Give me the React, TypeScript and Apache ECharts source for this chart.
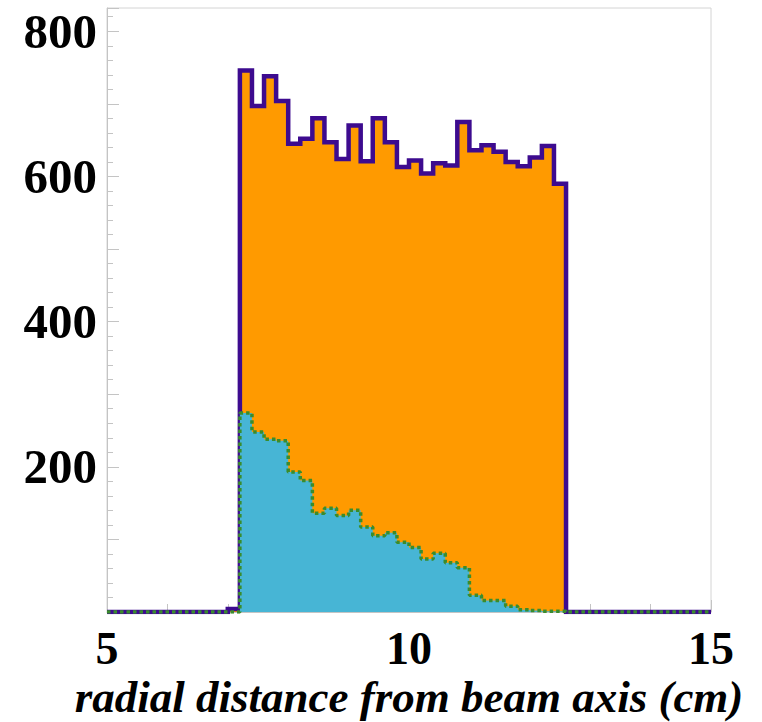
import React, { useEffect, useRef } from "react";
import * as echarts from "echarts";

// Histogram binning (cm)
const BIN_START = 5.0;
const BIN_WIDTH = 0.2;

// Counts per 0.2 cm bin, 5.0 – 15.0 cm (50 bins)
const totalCounts = [
  0, 0, 0, 0, 0, 0, 0, 0, 0, 0,
  4, 746, 697, 738, 704, 645, 652, 680, 647, 624,
  670, 621, 680, 647, 613, 622, 604, 618, 615, 675,
  636, 643, 634, 620, 614, 626, 642, 590, 0, 0,
  0, 0, 0, 0, 0, 0, 0, 0, 0, 0,
];
const subsetCounts = [
  0, 0, 0, 0, 0, 0, 0, 0, 0, 0,
  0, 274, 248, 238, 236, 193, 181, 136, 143, 133,
  140, 117, 105, 109, 96, 89, 73, 81, 68, 61,
  23, 16, 16, 8, 3, 2, 1, 1, 0, 0,
  0, 0, 0, 0, 0, 0, 0, 0, 0, 0,
];

const xTickLabels = [5, 10, 15];
const yTickLabels = [200, 400, 600, 800];
const xTitle = "radial distance from beam axis (cm)";

function toSteps(counts: number[]): number[][] {
  const pts: number[][] = [[BIN_START, 0]];
  counts.forEach((c, i) => pts.push([BIN_START + i * BIN_WIDTH, c]));
  const end = BIN_START + counts.length * BIN_WIDTH;
  pts.push([end, counts[counts.length - 1]]);
  pts.push([end, 0]);
  return pts;
}

const AXIS_GRAY = "#c4c4c4";
const SERIF = "'Liberation Serif', 'Times New Roman', serif";

export default function App() {
  const ref = useRef<HTMLDivElement>(null);
  useEffect(() => {
    if (!ref.current) return;
    const chart = echarts.init(ref.current, undefined, { renderer: "svg" });
    chart.setOption({
      animation: false,
      backgroundColor: "#ffffff",
      grid: {
        left: 107,
        right: 51,
        top: 8,
        bottom: 110,
        outerBoundsMode: "none",
        containLabel: false,
        show: true,
        borderColor: "#d4d4d4",
        borderWidth: 1,
        backgroundColor: "#ffffff",
      },
      xAxis: [
        {
          type: "value",
          position: "bottom",
          min: 5,
          max: 15,
          interval: 5,
          axisLine: { show: true, onZero: false, lineStyle: { color: AXIS_GRAY, width: 1 } },
          axisTick: { show: true, inside: true, length: 12, lineStyle: { color: AXIS_GRAY } },
          splitLine: { show: false },
          axisLabel: {
            margin: 13,
            color: "#000",
            fontFamily: SERIF,
            fontWeight: "bold",
            fontSize: 46,
            lineHeight: 46,
            formatter: (v: number) => (xTickLabels.includes(v) ? String(v) : ""),
          },
          name: xTitle,
          nameLocation: "middle",
          nameGap: 62,
          nameMoveOverlap: false,
          nameTextStyle: {
            color: "#000",
            fontFamily: SERIF,
            fontStyle: "italic",
            fontWeight: "bold",
            fontSize: 45,
            lineHeight: 45,
          },
        },
        {
          type: "value",
          position: "bottom",
          min: 5,
          max: 15,
          interval: 1,
          axisLine: { show: false, onZero: false },
          axisTick: { show: true, inside: true, length: 8, lineStyle: { color: AXIS_GRAY } },
          splitLine: { show: false },
          axisLabel: { show: false },
        },
      ],
      yAxis: [
        {
          type: "value",
          position: "left",
          min: 0,
          max: 832,
          interval: 100,
          axisLine: { show: true, onZero: false, lineStyle: { color: AXIS_GRAY, width: 1 } },
          axisTick: { show: true, inside: true, length: 12, lineStyle: { color: AXIS_GRAY } },
          splitLine: { show: false },
          axisLabel: {
            margin: 10,
            color: "#000",
            fontFamily: SERIF,
            fontWeight: "bold",
            fontSize: 49,
            formatter: (v: number) => (yTickLabels.includes(v) ? String(v) : ""),
          },
        },
        {
          type: "value",
          position: "left",
          min: 0,
          max: 832,
          interval: 20,
          axisLine: { show: false, onZero: false },
          axisTick: { show: true, inside: true, length: 6, lineStyle: { color: AXIS_GRAY } },
          splitLine: { show: false },
          axisLabel: { show: false },
        },
      ],
      series: [
        {
          name: "all",
          type: "line",
          xAxisIndex: 0,
          yAxisIndex: 0,
          step: "end",
          symbol: "none",
          clip: true,
          data: toSteps(totalCounts),
          lineStyle: { color: "#3d0b8f", width: 4.5, join: "miter" },
          areaStyle: { color: "#ff9a00", opacity: 1 },
          z: 2,
        },
        {
          name: "subset",
          type: "line",
          xAxisIndex: 0,
          yAxisIndex: 0,
          step: "end",
          symbol: "none",
          clip: true,
          data: toSteps(subsetCounts),
          lineStyle: { color: "#3a8c2c", width: 3.5, type: [3.5, 3] },
          areaStyle: { color: "#47b5d5", opacity: 1 },
          z: 3,
        },
      ],
    });
    return () => chart.dispose();
  }, []);
  return (
    <div
      ref={ref}
      style={{ position: "absolute", left: 0, top: 0, width: 762, height: 722 }}
    />
  );
}
